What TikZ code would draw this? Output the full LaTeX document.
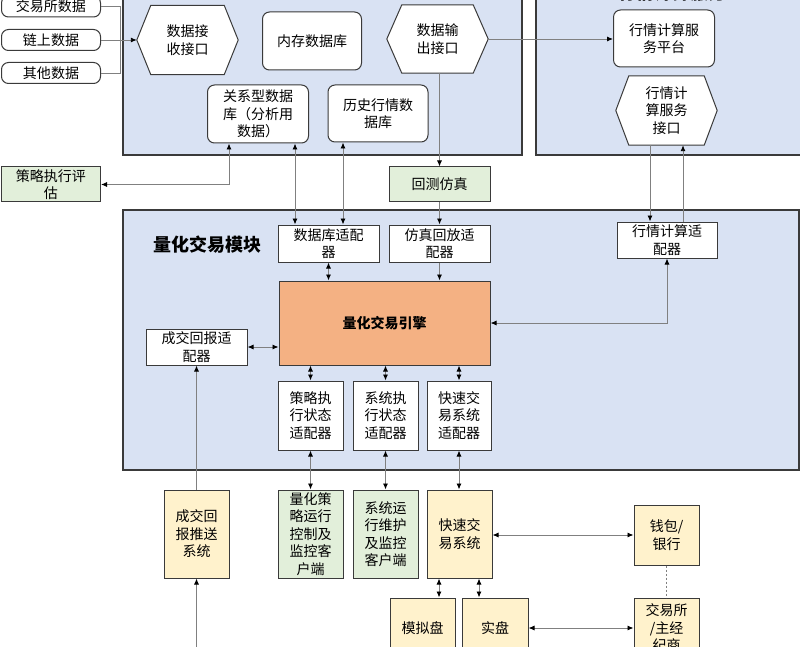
\documentclass[tikz,border=0pt]{standalone}
\usepackage{fontspec}
\setmainfont{Noto Sans CJK SC}
\usetikzlibrary{arrows.meta}
\pgfdeclarelayer{bg}
\pgfdeclarelayer{mid}
\pgfsetlayers{bg,mid,main}
\definecolor{panelblue}{HTML}{D9E2F3}
\definecolor{boxgreen}{HTML}{E2EFDA}
\definecolor{boxyellow}{HTML}{FFF2CC}
\definecolor{engorange}{HTML}{F4B183}
\definecolor{edgecol}{HTML}{3A3A3A}
\definecolor{wirecol}{HTML}{808080}
\newcommand{\fs}{\fontsize{14pt}{17.5pt}\selectfont}
\newcommand{\hexa}[2]{% name, chamfer
  \begin{pgfonlayer}{mid}
  \draw[draw=edgecol,line width=1pt,fill=white]
    (#1.west) -- ([xshift=#2pt]#1.north west) -- ([xshift=-#2pt]#1.north east)
    -- (#1.east) -- ([xshift=-#2pt]#1.south east) -- ([xshift=#2pt]#1.south west) -- cycle;
  \end{pgfonlayer}}
\begin{document}
\begin{tikzpicture}[x=1pt,y=-1pt,
  wh/.style 2 args={minimum width=#1pt,minimum height=#2pt},
  base/.style={align=center,inner sep=0pt,font=\fs},
  rbox/.style={base,draw=edgecol,line width=1pt,fill=white,rounded corners=7pt},
  sbox/.style={base,draw=edgecol,line width=1pt,fill=white},
  gbox/.style={base,draw=edgecol,line width=1pt,fill=boxgreen},
  ybox/.style={base,draw=edgecol,line width=1pt,fill=boxyellow},
  hexbox/.style={base},
  panel/.style={draw=edgecol,line width=1.2pt,fill=panelblue},
  wire/.style={draw=wirecol,line width=0.9pt},
  arr/.style={wire,-{Latex[length=6pt,width=5pt,color=black]}},
  darr/.style={wire,{Latex[length=6pt,width=5pt,color=black]}-{Latex[length=6pt,width=5pt,color=black]}},
  dotwire/.style={draw=wirecol,line width=1.2pt,dash pattern=on 2pt off 2pt}
]
\useasboundingbox (0,0) rectangle (800,647);
\clip (0,0) rectangle (800,647);

% panels
\begin{pgfonlayer}{bg}
\fill[white] (0,0) rectangle (800,647);
\path[panel] (123,-30) rectangle (522,155);
\path[panel] (536,-30) rectangle (830,155);
\path[panel] (123,210) rectangle (799,470);
\end{pgfonlayer}

\node[base,font=\fontsize{18pt}{22pt}\selectfont\bfseries] (rtitle) at (672,-7) {行情计算服务};
\node[base,font=\fontsize{18pt}{22pt}\selectfont\bfseries] (qtitle) at (207,245) {量化交易模块};

% inputs
\node[rbox,wh={99}{21}] (ex) at (51,6.5) {交易所数据};
\node[rbox,wh={99}{21}] (chain) at (51,40) {链上数据};
\node[rbox,wh={99}{21}] (oth) at (51,73) {其他数据};
\coordinate (bus) at (120,40);

% data module
\node[hexbox,wh={101}{69}] (recv) at (187.5,40) {数据接\\收接口};
\hexa{recv}{14}
\node[rbox,wh={99}{58}] (mem) at (312,41) {内存数据库};
\node[hexbox,wh={101}{68}] (out) at (437.5,39) {数据输\\出接口};
\hexa{out}{15}
\node[rbox,wh={101}{58}] (rel) at (258,114) {关系型数据\\库（分析用\\数据）};
\node[rbox,wh={100}{57}] (hist) at (378,113.5) {历史行情数\\据库};

% market calc
\node[rbox,wh={101}{57}] (plat) at (664,38.5) {行情计算服\\务平台};
\node[hexbox,wh={101}{69}] (qif) at (666.5,110.5) {行情计\\算服务\\接口};
\hexa{qif}{13}

% outside
\node[gbox,wh={99}{35}] (eval) at (51,184.5) {策略执行评\\估};
\node[gbox,wh={101}{35}] (bt) at (439.5,184.5) {回测仿真};

% quant module
\node[sbox,wh={101}{37}] (dbad) at (328.5,243.5) {数据库适配\\器};
\node[sbox,wh={101}{37}] (simad) at (439.5,243.5) {仿真回放适\\配器};
\node[sbox,wh={100}{36}] (qadp) at (667,240) {行情计算适\\配器};
\node[base,draw=edgecol,line width=1pt,fill=engorange,wh={211}{84},font=\fs\bfseries] (eng) at (384.5,323) {量化交易引擎};
\node[sbox,wh={101}{36}] (tradead) at (196.5,347) {成交回报适\\配器};
\node[sbox,wh={65}{69}] (sad) at (310.5,415.5) {策略执\\行状态\\适配器};
\node[sbox,wh={65}{69}] (sysad) at (385.5,415.5) {系统执\\行状态\\适配器};
\node[sbox,wh={64}{69}] (fad) at (459,415.5) {快速交\\易系统\\适配器};

% bottom
\node[ybox,wh={65}{88}] (push) at (196.5,534) {成交回\\报推送\\系统};
\node[gbox,wh={65}{88}] (qc) at (310.5,534) {量化策\\略运行\\控制及\\监控客\\户端};
\node[gbox,wh={65}{88}] (sc) at (385.5,534) {系统运\\行维护\\及监控\\客户端};
\node[ybox,wh={65}{88}] (fts) at (459.5,534) {快速交\\易系统};
\node[ybox,wh={65}{60}] (wallet) at (666.5,535) {钱包/\\银行};
\node[ybox,wh={65}{60}] (sim) at (422.5,628) {模拟盘};
\node[ybox,wh={66}{60}] (real) at (495,628) {实盘};
\node[ybox,wh={65}{60}] (exch) at (666.5,628) {交易所\\/主经\\纪商};
\coordinate (pushin) at (196.5,670);

% connectors
\draw[wire] (ex.east) -| (bus);
\draw[wire] (oth.east) -| (bus);
\draw[arr] (chain.east) -- (recv.west);
\draw[arr] (out.east) -- (out.east -| plat.west);
\draw[darr] (eval.east) -| ([xshift=-29pt]rel.south);
\draw[arr] (out.south -| bt.north) -- (bt.north);
\draw[arr] (bt.south) -- (simad.north);
\draw[darr] ([xshift=37pt]rel.south) -- ([xshift=37pt]rel.south |- dbad.north);
\draw[darr] ([xshift=-35pt]hist.south) -- ([xshift=-35pt]hist.south |- dbad.north);
\draw[darr] (dbad.south) -- (dbad.south |- eng.north);
\draw[arr] (simad.south) -- (simad.south |- eng.north);
\draw[arr] ([xshift=-16.5pt]qif.south) -- ([xshift=-16.5pt]qif.south |- qadp.north);
\draw[arr] ([xshift=16.5pt]qif.south |- qadp.north) -- ([xshift=16.5pt]qif.south);
\draw[darr] (qadp.south) |- (eng.east);
\draw[darr] (tradead.east) -- (eng.west |- tradead.east);
\draw[darr] (sad.north |- eng.south) -- (sad.north);
\draw[darr] (sysad.north |- eng.south) -- (sysad.north);
\draw[darr] (fad.north |- eng.south) -- (fad.north);
\draw[darr] (sad.south) -- (qc.north);
\draw[darr] (sysad.south) -- (sc.north);
\draw[darr] (fad.south) -- (fad.south |- fts.north);
\draw[arr] (push.north) -- (tradead.south);
\draw[arr] (pushin) -- (push.south);
\draw[darr] (wallet.west -| fts.east) -- (wallet.west);
\draw[darr] ([xshift=16.5pt]sim.north |- fts.south) -- ([xshift=16.5pt]sim.north);
\draw[darr] ([xshift=-16pt]real.north |- fts.south) -- ([xshift=-16pt]real.north);
\draw[darr] (real.east) -- (exch.west);
\draw[dotwire] (wallet.south) -- (exch.north);
\end{tikzpicture}
\end{document}
